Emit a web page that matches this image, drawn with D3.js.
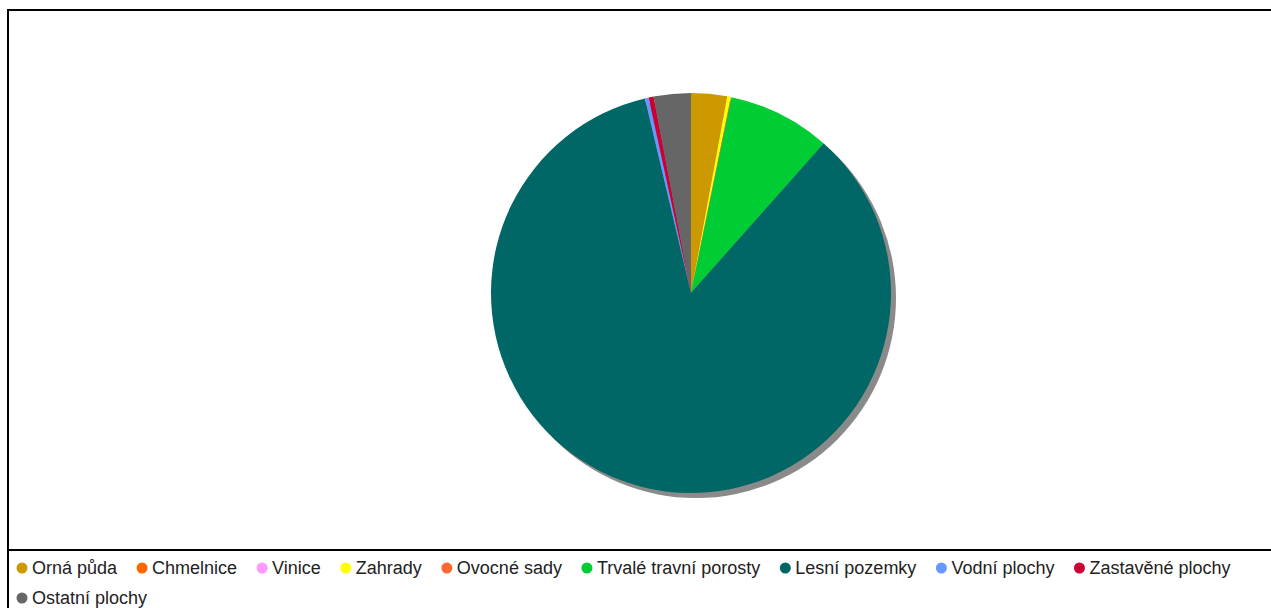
<!DOCTYPE html>
<html>
<head>
<meta charset="utf-8">
<script src="https://cdn.jsdelivr.net/npm/d3@7"></script>
<style>
  body { margin: 0; background: #fff; overflow: hidden; }
  svg { display: block; font-family: "Liberation Sans", Arial, sans-serif; }
</style>
</head>
<body>
<svg></svg>
<script>
const width = 1271;
const height = 608;

// druhy pozemků (podíl v %)
const categories = ["Orná půda", "Chmelnice", "Vinice", "Zahrady", "Ovocné sady",
    "Trvalé travní porosty", "Lesní pozemky", "Vodní plochy", "Zastavěné plochy", "Ostatní plochy"];
const values = [2.9, 0, 0, 0.3, 0.05, 8.3, 84.75, 0.3, 0.4, 3.0];
const colors = ["#cc9900", "#ff6600", "#ff99ff", "#ffff00", "#ff6633",
    "#00cc33", "#006666", "#6699ff", "#cc0033", "#666666"];

const svg = d3.select("svg")
    .attr("width", width)
    .attr("height", height);

// rámeček grafu (přesahuje vpravo přes okno)
const boxX = 8, boxY = 10, boxW = 1366, legendTop = 550;
svg.append("rect")
    .attr("x", boxX).attr("y", boxY)
    .attr("width", boxW).attr("height", 700)
    .attr("fill", "none")
    .attr("stroke", "#000")
    .attr("stroke-width", 2);
svg.append("line")
    .attr("x1", boxX).attr("x2", boxX + boxW)
    .attr("y1", legendTop).attr("y2", legendTop)
    .attr("stroke", "#000")
    .attr("stroke-width", 2);

// koláč
const cx = boxX + boxW / 2;
const cy = 293;
const radius = 200;

const pie = d3.pie().sort(null).value(d => d.value);
const arc = d3.arc().innerRadius(0).outerRadius(radius);
const data = categories.map((c, i) => ({ name: c, value: values[i], color: colors[i] }));

const g = svg.append("g").attr("transform", `translate(${cx},${cy})`);

// stín
g.append("circle")
    .attr("cx", 5).attr("cy", 5)
    .attr("r", radius)
    .attr("fill", "#8a8a8a");

g.selectAll(".slice")
    .data(pie(data).filter(d => d.data.value > 0))
    .enter().append("path")
    .attr("class", "slice")
    .attr("d", arc)
    .attr("fill", d => d.data.color);

// legenda ----------------------------------------//
const legend = svg.append("g");
const fontSize = 18;
const rowH = 30;
const maxX = width - 10;
let x = 22, y = 574;

data.forEach(d => {
    const item = legend.append("g");
    const t = item.append("text")
        .attr("x", 10)
        .attr("y", 0)
        .attr("font-size", fontSize)
        .attr("fill", "#222")
        .text(d.name);
    const w = t.node().getComputedTextLength();
    if (x + 10 + w > maxX) {
        x = 22;
        y += rowH;
    }
    item.attr("transform", `translate(${x},${y})`);
    item.insert("circle", "text")
        .attr("cx", 0).attr("cy", -6)
        .attr("r", 5.5)
        .attr("fill", d.color);
    x += 10 + w + 25;
});
</script>
</body>
</html>
